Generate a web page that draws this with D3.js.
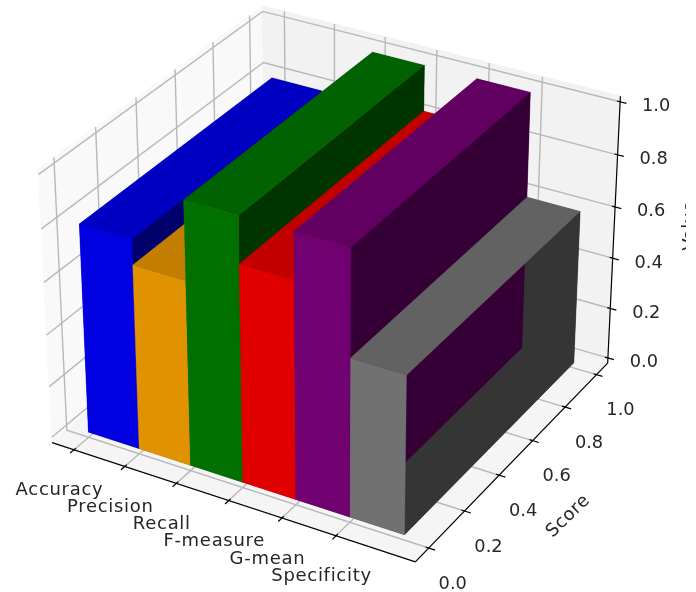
<!DOCTYPE html>
<html><head><meta charset="utf-8">
<script src="https://cdn.jsdelivr.net/npm/d3@7"></script>
<style>html,body{margin:0;padding:0;background:#fff}svg{display:block;filter:blur(0.6px)}text{font-family:"DejaVu Sans";fill:#262626}</style>
</head><body><svg id="c" width="696" height="592"></svg>
<script>
const categories=["Accuracy","Precision","Recall","F-measure","G-mean","Specificity"];
const values=[0.80,0.705,1.0,0.825,1.0,0.60];
const barColors=["#0000ff","#ffa500","#008000","#ff0000","#800080","#808080"];
const scoreTicks=[0,0.2,0.4,0.6,0.8,1.0];
const valueTicks=[0,0.2,0.4,0.6,0.8,1.0];

const W=696,H=592,svg=d3.select("#c");
const xLim=[-0.3,6.3],yLim=[-0.05,1.05],zLim=[0,1];
const k=1.8294640721620434*25/24/Math.hypot(4,4,3);
const bx=4*k,by=4*k,bz=3*k;
const sx=d3.scaleLinear().domain(xLim).range([-bx/2,bx/2]);
const sy=d3.scaleLinear().domain(yLim).range([-by/2,by/2]);
const sz=d3.scaleLinear().domain(zLim).range([-bz/2,bz/2]);
const elev=30*Math.PI/180,azim=-60*Math.PI/180,dist=10;
const w=[Math.cos(elev)*Math.cos(azim),Math.cos(elev)*Math.sin(azim),Math.sin(elev)];
const u=[-Math.sin(azim),Math.cos(azim),0];
const v=[w[1]*u[2]-w[2]*u[1],w[2]*u[0]-w[0]*u[2],w[0]*u[1]-w[1]*u[0]];
const dot=(a,b)=>a[0]*b[0]+a[1]*b[1]+a[2]*b[2];
const screenX=d3.scaleLinear().domain([0,1]).range([335.2,335.2+3355]);
const screenY=d3.scaleLinear().domain([0,1]).range([270,270-3355]);
function project(p){
  const q=[sx(p[0]),sy(p[1]),sz(p[2])];
  const d=dist-dot(w,q);
  return {x:screenX(dot(u,q)/d),y:screenY(dot(v,q)/d),depth:-dist/d};
}
const dx=(xLim[1]-xLim[0])/48,dy=(yLim[1]-yLim[0])/48,dz=(zLim[1]-zLim[0])/48;
const X0=xLim[0]-dx,X1=xLim[1]+dx,Y0=yLim[0]-dy,Y1=yLim[1]+dy,Z0=zLim[0]-dz,Z1=zLim[1]+dz;
const path=d3.line().x(d=>d.x).y(d=>d.y);
const draw=(pts,close)=>path(pts.map(project))+(close?"Z":"");

// panes
[[[X0,Y0,Z0],[X0,Y1,Z0],[X0,Y1,Z1],[X0,Y0,Z1],"#f9f9f9"],
 [[X0,Y1,Z0],[X1,Y1,Z0],[X1,Y1,Z1],[X0,Y1,Z1],"#f2f2f2"],
 [[X0,Y0,Z0],[X1,Y0,Z0],[X1,Y1,Z0],[X0,Y1,Z0],"#f5f5f5"]].forEach(a=>{
  svg.append("path").attr("d",draw(a.slice(0,4),true)).attr("fill",a[4]).attr("stroke",a[4]).attr("stroke-width",1.4);
});
// grid
const gridG=svg.append("g").attr("fill","none").attr("stroke","#b8b8b8").attr("stroke-width",1.4);
categories.forEach((c,i)=>gridG.append("path").attr("d",draw([[i,Y0,Z0],[i,Y1,Z0],[i,Y1,Z1]])));
scoreTicks.forEach(t=>gridG.append("path").attr("d",draw([[X1,t,Z0],[X0,t,Z0],[X0,t,Z1]])));
valueTicks.forEach(t=>gridG.append("path").attr("d",draw([[X1,Y1,t],[X0,Y1,t],[X0,Y0,t]])));
// axes
const axG=svg.append("g").attr("fill","none").attr("stroke","#000").attr("stroke-width",1.2);
axG.append("path").attr("d",draw([[X0,Y0,Z0],[X1,Y0,Z0]]));
axG.append("path").attr("d",draw([[X1,Y0,Z0],[X1,Y1,Z0]]));
axG.append("path").attr("d",draw([[X1,Y1,Z0],[X1,Y1,Z1]]));
const tdx=(X1-X0)/12,tdy=(Y1-Y0)/12;
const out=0.2,inn=0.1;
function label(t,pos,ox,oy,spacing,size){
  svg.append("text").attr("x",pos.x+ox).attr("y",pos.y+oy).attr("text-anchor","middle").attr("dominant-baseline","central")
    .attr("font-size",size).attr("letter-spacing",spacing).text(t);
}
categories.forEach((c,i)=>{
  axG.append("path").attr("d",draw([[i,Y0-out*tdy,Z0],[i,Y0+inn*tdy,Z0]]));
  label(c,project([i,Y0,Z0]),-14.5,39,0.7,18);
});
scoreTicks.forEach(t=>{
  axG.append("path").attr("d",draw([[X1+out*tdx,t,Z0],[X1-inn*tdx,t,Z0]]));
  label(t.toFixed(1),project([X1,t,Z0]),24,34,0,17.8);
});
valueTicks.forEach(t=>{
  axG.append("path").attr("d",draw([[X1+out*tdx,Y1,t],[X1-inn*tdx,Y1,t]]));
  label(t.toFixed(1),project([X1,Y1,t]),36,3,0,17.8);
});
svg.append("text").attr("transform","translate(567,515) rotate(-44)").attr("text-anchor","middle").attr("dominant-baseline","central").attr("font-size",18).attr("letter-spacing",0.5).text("Score");
svg.append("defs").append("clipPath").attr("id","edge").append("rect").attr("x",0).attr("y",0).attr("width",686).attr("height",H);
svg.append("g").attr("clip-path","url(#edge)").append("text").attr("transform","translate(694.5,226) rotate(-90)").attr("text-anchor","middle").attr("font-size",18).text("Value");

// bars: six faces each, painter-sorted by mean depth
const cuboid=[
 {n:[0,0,-1],f:[[0,0,0],[0,1,0],[1,1,0],[1,0,0]]},
 {n:[0,0,1],f:[[0,0,1],[1,0,1],[1,1,1],[0,1,1]]},
 {n:[0,-1,0],f:[[0,0,0],[1,0,0],[1,0,1],[0,0,1]]},
 {n:[0,1,0],f:[[0,1,0],[0,1,1],[1,1,1],[1,1,0]]},
 {n:[-1,0,0],f:[[0,0,0],[0,0,1],[0,1,1],[0,1,0]]},
 {n:[1,0,0],f:[[1,0,0],[1,1,0],[1,1,1],[1,0,1]]}];
const light=[-2/3,-2/3,1/3];
const shade=n=>0.3+0.7*(dot(n,light)+1)/2;
const faces=[];
values.forEach((val,i)=>cuboid.forEach(c=>{
  const pts=c.f.map(p=>[i+p[0],p[1],p[2]*val]);
  const col=d3.rgb(barColors[i]),s=shade(c.n);
  faces.push({pts,fill:d3.rgb(col.r*s,col.g*s,col.b*s).formatRgb(),key:d3.mean(pts,p=>project(p).depth)});
}));
faces.sort((a,b)=>b.key-a.key);
svg.append("g").selectAll("path").data(faces).join("path")
  .attr("d",d=>draw(d.pts,true)).attr("fill",d=>d.fill).attr("stroke",d=>d.fill).attr("stroke-width",0.3);
</script></body></html>
